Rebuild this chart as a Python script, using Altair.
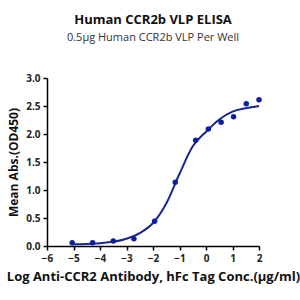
import altair as alt
import pandas as pd

# measured points
pt_x = [-5.05, -4.28, -3.50, -2.72, -1.94, -1.16, -0.39, 0.09, 0.57, 1.04, 1.52, 2.0]
pt_y = [0.06, 0.06, 0.09, 0.13, 0.44, 1.14, 1.89, 2.09, 2.21, 2.31, 2.54, 2.61]

# fitted curve
cv_x = [-5.05, -4.5, -4.0, -3.5, -3.0, -2.5, -2.0, -1.5, -1.0, -0.5, 0.0, 0.5, 1.0, 1.5, 2.0]
cv_y = [0.03, 0.035, 0.05, 0.075, 0.13, 0.23, 0.41, 0.76, 1.29, 1.78, 2.04, 2.26, 2.40, 2.46, 2.50]

x_ticks = [-6, -5, -4, -3, -2, -1, 0, 1, 2]
y_ticks = [0.0, 0.5, 1.0, 1.5, 2.0, 2.5, 3.0]

FONT = "Open Sans"

pts = pd.DataFrame({"x": pt_x, "y": pt_y})
cv = pd.DataFrame({"x": cv_x, "y": cv_y})

xs = alt.Scale(domain=[-6, 2], nice=False, zero=False)
ys = alt.Scale(domain=[0, 3], nice=False)

xax = alt.Axis(values=x_ticks, title="Log Anti-CCR2 Antibody, hFc Tag Conc.(µg/ml)",
               format="d", titlePadding=7, labelOverlap=False, labelFlush=False)
yax = alt.Axis(values=y_ticks, title="Mean Abs.(OD450)", format=".1f", titlePadding=5,
               labelOverlap=False, labelFlush=False)

line = alt.Chart(cv).mark_line(color="#1a2590", strokeWidth=2, interpolate="monotone").encode(
    x=alt.X("x:Q", scale=xs, axis=xax),
    y=alt.Y("y:Q", scale=ys, axis=yax),
)
dots = alt.Chart(pts).mark_circle(color="#0c1fa0", size=30, opacity=1).encode(
    x=alt.X("x:Q", scale=xs, axis=xax),
    y=alt.Y("y:Q", scale=ys, axis=yax),
)

chart = (line + dots).properties(
    width=212, height=168,
    title=alt.TitleParams(text="Human CCR2b VLP ELISA",
                          subtitle="0.5µg Human CCR2b VLP Per Well",
                          font=FONT, fontSize=13, fontWeight="bold", color="#111",
                          subtitleFont=FONT, subtitleFontSize=11, subtitleColor="#333",
                          subtitlePadding=5, anchor="middle", offset=30),
    autosize=alt.AutoSizeParams(type="none"),
    padding={"left": 47, "top": 78, "right": 41, "bottom": 54},
).configure_view(stroke=None).configure_axis(
    grid=False, domainColor="black", domainWidth=1.5, tickColor="black", tickWidth=1.5,
    tickSize=4, labelFont=FONT, labelFontSize=10, labelFontWeight="bold", labelColor="#222",
    titleFont=FONT, titleFontSize=12, titleFontWeight="bold", titleColor="#111",
    labelPadding=3, labelOverlap=False,
).configure_axisX(titleFontSize=13)

chart.save("out.html", embed_options={"renderer": "svg", "actions": False})
